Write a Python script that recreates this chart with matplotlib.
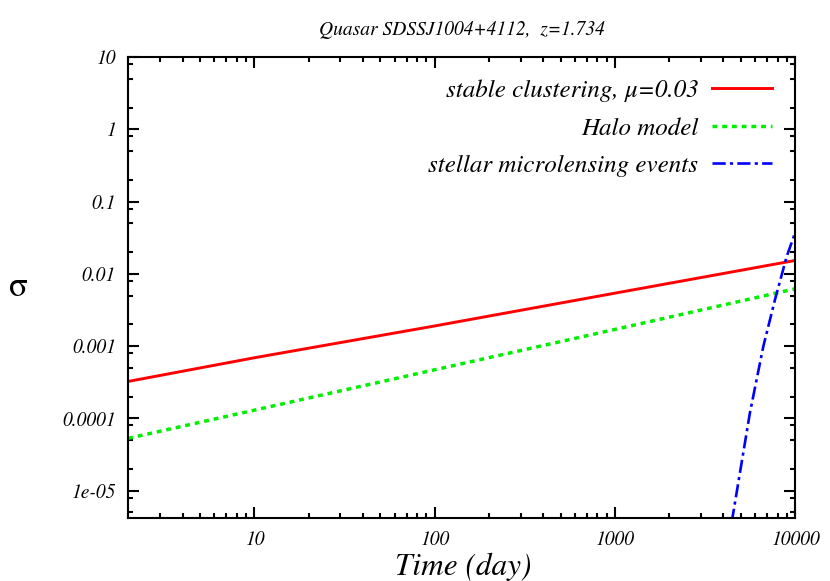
import matplotlib
matplotlib.use("Agg")
import matplotlib.pyplot as plt
from matplotlib.ticker import LogLocator, NullFormatter

# ---- data ----
t_clust = [2, 10, 100, 1000, 10000]
sig_clust = [3.25e-4, 6.9e-4, 1.9e-3, 5.4e-3, 1.53e-2]

t_halo = [2, 10, 100, 1000, 10000]
sig_halo = [5.3e-5, 1.3e-4, 4.7e-4, 1.7e-3, 6.2e-3]

t_micro = [4250, 4510, 5620, 6670, 7745, 8995, 10000]
sig_micro = [1.7e-6, 4.4e-6, 1.19e-4, 9.9e-4, 4.4e-3, 1.74e-2, 3.66e-2]

labels = ["stable clustering, \u03bc=0.03", "Halo model",
          "stellar microlensing events"]
title = "Quasar SDSSJ1004+4112,  z=1.734"
xlabel = "Time (day)"
ylabel = "\u03c3"
xticks = [10, 100, 1000, 10000]
xticklabels = ["10", "100", "1000", "10000"]
yticks = [1e-5, 1e-4, 1e-3, 1e-2, 1e-1, 1, 10]
yticklabels = ["1e-05", "0.0001", "0.001", "0.01", "0.1", "1", "10"]

plt.rcParams["font.family"] = ["STIXGeneral", "DejaVu Serif"]
plt.rcParams["mathtext.fontset"] = "stix"

fig = plt.figure(figsize=(8.30, 5.81), dpi=100)
ax = fig.add_axes([128.3 / 830, 1 - 518.3 / 581, (795 - 128.3) / 830, (518.3 - 57) / 581])

ax.plot(t_clust, sig_clust, color="#ff0000", lw=2.1, label=labels[0])
ax.plot(t_halo, sig_halo, color="#00ee00", lw=2.5, linestyle=(0, (1.4, 1.4)),
        label=labels[1])
ax.plot(t_micro, sig_micro, color="#0000ff", lw=1.9, linestyle=(0, (5, 1.6, 1.2, 1.6)),
        label=labels[2])

ax.set_xscale("log")
ax.set_yscale("log")
ax.set_xlim(2, 10000)
ax.set_ylim(4.15e-6, 10)

ax.set_xticks(xticks, xticklabels)
ax.set_yticks(yticks, yticklabels)
ax.xaxis.set_minor_locator(LogLocator(base=10, subs=[2, 3, 4, 5, 6, 7, 8, 9], numticks=20))
ax.yaxis.set_minor_locator(LogLocator(base=10, subs=[2, 5, 8], numticks=20))
ax.xaxis.set_minor_formatter(NullFormatter())
ax.yaxis.set_minor_formatter(NullFormatter())

for lab in ax.get_xticklabels() + ax.get_yticklabels():
    lab.set_fontstyle("italic")
    lab.set_fontsize(14)

ax.tick_params(which="both", direction="in", top=True, right=True, width=1.5)
ax.tick_params(which="major", length=8)
ax.tick_params(which="minor", length=3.6)
ax.tick_params(axis="y", pad=9)
ax.tick_params(axis="x", pad=9)
for sp in ax.spines.values():
    sp.set_linewidth(1.5)

fig.text(462 / 830, 1 - 30 / 581, title, fontsize=14, style="italic",
         ha="center", va="center")
fig.text(463 / 830, 1 - 567 / 581, xlabel, fontsize=22.5, style="italic",
         ha="center", va="center")
fig.text(18 / 830, 1 - 288 / 581, ylabel, fontsize=25, ha="center", va="center")

leg = ax.legend(loc="upper right", bbox_to_anchor=(0.9655, 0.951), frameon=False,
                markerfirst=False, handlelength=2.4,
                handletextpad=0.55, labelspacing=0.6, borderpad=0, borderaxespad=0,
                prop={"style": "italic", "size": 18})

fig.savefig("out.png", dpi=100)
